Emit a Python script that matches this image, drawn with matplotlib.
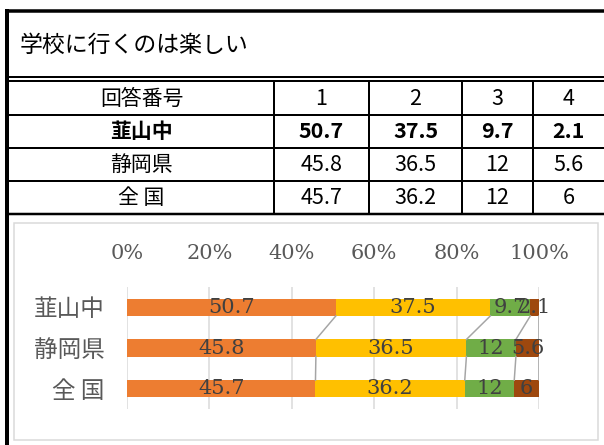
import matplotlib
matplotlib.use("Agg")
import matplotlib.pyplot as plt
import numpy as np
from matplotlib.patches import Rectangle
from matplotlib.lines import Line2D

plt.rcParams['font.family'] = ['Noto Sans CJK JP', 'DejaVu Sans']

# ---- data ----
title = "学校に行くのは楽しい"
header_label = "回答番号"
answer_numbers = ["1", "2", "3", "4"]
groups = ["韮山中", "静岡県", "全 国"]
table_values = [["50.7", "37.5", "9.7", "2.1"],
                ["45.8", "36.5", "12", "5.6"],
                ["45.7", "36.2", "12", "6"]]
ans1 = [50.7, 45.8, 45.7]
ans2 = [37.5, 36.5, 36.2]
ans3 = [9.7, 12, 12]
ans4 = [2.1, 5.6, 6]
xticks_pct = [0, 20, 40, 60, 80, 100]
colors = ["#ED7D31", "#FFC000", "#70AD47", "#9E480E"]

W, H = 604, 445
fig = plt.figure(figsize=(W / 100, H / 100), dpi=100)
px = 0.72  # points per pixel

# overlay axes in pixel coordinates for frame / table
ov = fig.add_axes([0, 0, 1, 1])
ov.set_xlim(0, W)
ov.set_ylim(H, 0)
ov.axis('off')

def hline(y, x0, x1, w, c='black'):
    ov.add_line(Line2D([x0, x1], [y, y], color=c, lw=w * px, solid_capstyle='butt'))

def vline(x, y0, y1, w, c='black'):
    ov.add_line(Line2D([x, x], [y0, y1], color=c, lw=w * px, solid_capstyle='butt'))

# outer frame
vline(7, 9, H, 4)
hline(10.5, 5, W, 3.5)
hline(77, 5, W, 2)
hline(81, 5, W, 2)
ov.text(20, 45, title, fontsize=16.5, va='center', ha='left', color='black')

# table
row_edges = [82, 114.5, 147.5, 180.5, 213.5]
col_edges = [9, 274, 369, 462, 533, W]
for y in row_edges[1:-1]:
    hline(y, 9, W, 2)
hline(row_edges[-1], 9, W, 2.5)
for x in col_edges[1:-1]:
    vline(x, 82, 214, 2)

rows_text = [[header_label] + answer_numbers] + [[g] + v for g, v in zip(groups, table_values)]
for r, row in enumerate(rows_text):
    yc = (row_edges[r] + row_edges[r + 1]) / 2
    bold = (r == 1)
    for c, txt in enumerate(row):
        xc = (col_edges[c] + col_edges[c + 1]) / 2
        ov.text(xc, yc + 1, txt, ha='center', va='center', fontsize=15 if c == 0 else 15.5,
                fontweight='bold' if bold else 'normal', color='black')

# chart frame
ov.add_patch(Rectangle((14, 223), 584, 217, fill=False, edgecolor='#D9D9D9', lw=1.5 * px))

# ---- chart ----
ax = fig.add_axes([127 / W, 1 - 409 / H, 412 / W, 122 / H])
data = np.array([ans1, ans2, ans3, ans4], dtype=float)
totals = data.sum(axis=0)
pct = data / totals * 100
ypos = np.arange(len(groups))
bar_h = 0.42
left = np.zeros(len(groups))
bounds = []
for i in range(4):
    ax.barh(ypos, pct[i], left=left, height=bar_h, color=colors[i], zorder=3)
    for j in range(len(groups)):
        ax.text(left[j] + pct[i][j] / 2, ypos[j], f"{data[i][j]:g}",
                ha='center', va='center', family='DejaVu Serif', fontsize=15,
                color='#404040', zorder=5)
    left = left + pct[i]
    bounds.append(left.copy())

# series lines
for b in bounds:
    for j in range(len(groups) - 1):
        ax.plot([b[j], b[j + 1]], [ypos[j] + bar_h / 2, ypos[j + 1] - bar_h / 2],
                color='#A5A5A5', lw=1.5 * px, zorder=4)

ax.set_xlim(0, 100)
ax.set_ylim(len(groups) - 0.5, -0.5)
ax.set_xticks(xticks_pct)
ax.set_xticklabels([f"{t}%" for t in xticks_pct], family='DejaVu Serif', fontsize=15, color='#595959')
ax.xaxis.tick_top()
ax.set_yticks(ypos)
ax.set_yticklabels(groups, fontsize=17, color='#595959')
ax.tick_params(axis='x', length=0, pad=17)
ax.tick_params(axis='y', length=0, pad=16)
ax.grid(axis='x', color='#D9D9D9', lw=1.5 * px, zorder=0)
for s in ax.spines.values():
    s.set_visible(False)
ax.set_facecolor('none')

fig.savefig("out.png", dpi=100)
